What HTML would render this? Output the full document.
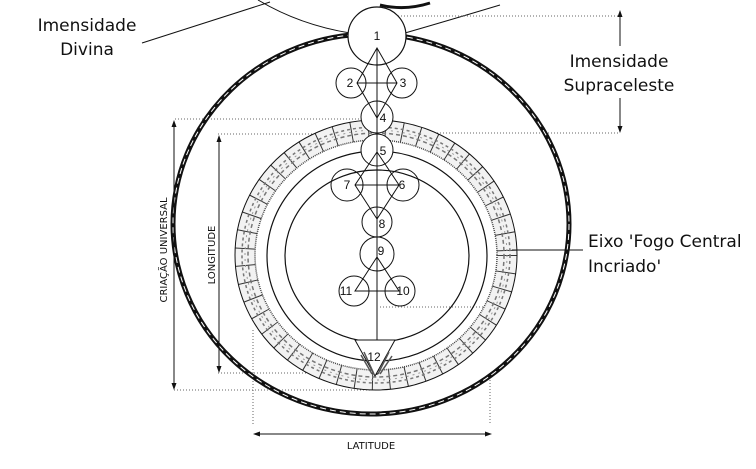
<!DOCTYPE html>
<html><head><meta charset="utf-8"><style>
html,body{margin:0;padding:0;background:#fff;}
svg{display:block;}
text{font-family:"DejaVu Sans","Liberation Sans",sans-serif;fill:#111;}
.n{font-family:"Liberation Sans",sans-serif;font-size:12px;text-anchor:middle;}
</style></head><body>
<svg width="756" height="469" viewBox="0 0 756 469" xmlns="http://www.w3.org/2000/svg">
<g fill="none" stroke="#111">
<path d="M258,0 Q300,25 350,33" stroke-width="1"/>
<path d="M405,33 Q450,20 500,5" stroke-width="1"/>
<path d="M380,5 Q405,11 430,3" stroke-width="3"/>
<g stroke="#666" stroke-width="1" stroke-dasharray="1,2">
<line x1="395" y1="16" x2="620" y2="16"/>
<line x1="175" y1="119" x2="360" y2="119"/>
<line x1="395" y1="133" x2="620" y2="133"/>
<line x1="218" y1="134" x2="360" y2="134"/>
<line x1="218" y1="373" x2="370" y2="373"/>
<line x1="174" y1="390" x2="370" y2="390"/>
<line x1="380" y1="307" x2="490" y2="307"/>
<line x1="253" y1="330" x2="253" y2="425"/>
<line x1="490" y1="380" x2="490" y2="425"/>
</g>
<ellipse cx="371" cy="224" rx="198" ry="190" stroke-width="5"/>
<ellipse cx="371" cy="224" rx="198" ry="190" stroke="#fff" stroke-width="1" stroke-dasharray="6,4"/>
<ellipse cx="376" cy="255" rx="131" ry="125" stroke="#f2f2f2" stroke-width="20"/>
<ellipse cx="376" cy="255" rx="131" ry="125" stroke="#333" stroke-width="20" stroke-dasharray="1,16"/>
<ellipse cx="376" cy="255" rx="134" ry="128" stroke="#777" stroke-width="1.5" stroke-dasharray="3,3"/>
<ellipse cx="376" cy="255" rx="128" ry="122" stroke="#777" stroke-width="1.5" stroke-dasharray="4,3"/>
<ellipse cx="376" cy="255" rx="131" ry="125" stroke="#999" stroke-width="1" stroke-dasharray="2,4"/>
<ellipse cx="376" cy="255" rx="141" ry="135" stroke-width="1"/>
<ellipse cx="376" cy="255" rx="121" ry="115" stroke="#444" stroke-width="1.5" stroke-dasharray="1,1"/>
<ellipse cx="377" cy="256" rx="110" ry="105" stroke-width="1.2"/>
<ellipse cx="377" cy="256" rx="92" ry="86" stroke-width="1.2"/>
<circle cx="377" cy="36" r="29" fill="#fff" stroke-width="1.2"/>
<circle cx="351" cy="83" r="15" stroke-width="1"/>
<circle cx="402" cy="83" r="15" stroke-width="1"/>
<circle cx="377" cy="117" r="16" fill="#fff" stroke-width="1"/>
<circle cx="377" cy="150" r="16" fill="#fff" stroke-width="1"/>
<circle cx="347" cy="185" r="16" stroke-width="1"/>
<circle cx="403" cy="185" r="16" stroke-width="1"/>
<circle cx="377" cy="222" r="15" stroke-width="1"/>
<circle cx="377" cy="254" r="17" stroke-width="1"/>
<circle cx="354" cy="291" r="15" stroke-width="1"/>
<circle cx="400" cy="291" r="15" stroke-width="1"/>
<path d="M377,48 L357,83 L377,118 L397,83 Z M357,83 L397,83" stroke-width="1"/>
<path d="M377,152 L355,185 L377,219 L399,185 Z M355,185 L399,185" stroke-width="1"/>
<path d="M377,257 L355,291 L399,291 Z" stroke-width="1"/>
<line x1="377" y1="48" x2="377" y2="375" stroke-width="1"/>
<path d="M355,340 L395,340 L375,376 Z" fill="#fff" stroke-width="1"/>
<path d="M361,355 L372,374 M364,352 L374,374 M389,352 L378,374 M392,356 L380,374" stroke="#555" stroke-width="1.5"/>
<g stroke-width="1">
<line x1="174" y1="122" x2="174" y2="388"/>
<line x1="219" y1="137" x2="219" y2="371"/>
<line x1="255" y1="434" x2="490" y2="434"/>
<line x1="620" y1="12" x2="620" y2="46"/>
<line x1="620" y1="98" x2="620" y2="131"/>
<line x1="142" y1="43" x2="270" y2="2"/>
<line x1="512" y1="250" x2="583" y2="250"/>
</g>
</g>
<g fill="#111">
<path d="M174,120 l-2.5,7 h5z M174,390 l-2.5,-7 h5z"/>
<path d="M219,135 l-2.5,7 h5z M219,373 l-2.5,-7 h5z"/>
<path d="M253,434 l7,-2.5 v5z M492,434 l-7,-2.5 v5z"/>
<path d="M620,10 l-2.5,7 h5z M620,133 l-2.5,-7 h5z"/>
</g>
<text class="n" x="377" y="40">1</text>
<text class="n" x="350" y="87">2</text>
<text class="n" x="403" y="87">3</text>
<text class="n" x="383" y="122">4</text>
<text class="n" x="383" y="155">5</text>
<text class="n" x="347" y="189">7</text>
<text class="n" x="402" y="189">6</text>
<text class="n" x="382" y="228">8</text>
<text class="n" x="381" y="255">9</text>
<text class="n" x="346" y="295">11</text>
<text class="n" x="403" y="295">10</text>
<text class="n" x="374" y="361">12</text>
<text x="87" y="31" font-size="17" text-anchor="middle">Imensidade</text>
<text x="87" y="55" font-size="17" text-anchor="middle">Divina</text>
<text x="619" y="67" font-size="17" text-anchor="middle">Imensidade</text>
<text x="619" y="91" font-size="17" text-anchor="middle">Supraceleste</text>
<text x="588" y="247" font-size="17">Eixo 'Fogo Central</text>
<text x="588" y="272" font-size="17">Incriado'</text>
<text x="371" y="449" font-size="10" text-anchor="middle" font-family="Liberation Sans,sans-serif">LATITUDE</text>
<text transform="translate(167,250) rotate(-90)" font-size="10" text-anchor="middle" font-family="Liberation Sans,sans-serif">CRIAÇÃO UNIVERSAL</text>
<text transform="translate(215,255) rotate(-90)" font-size="10" text-anchor="middle" font-family="Liberation Sans,sans-serif">LONGITUDE</text>
</svg>
</body></html>
